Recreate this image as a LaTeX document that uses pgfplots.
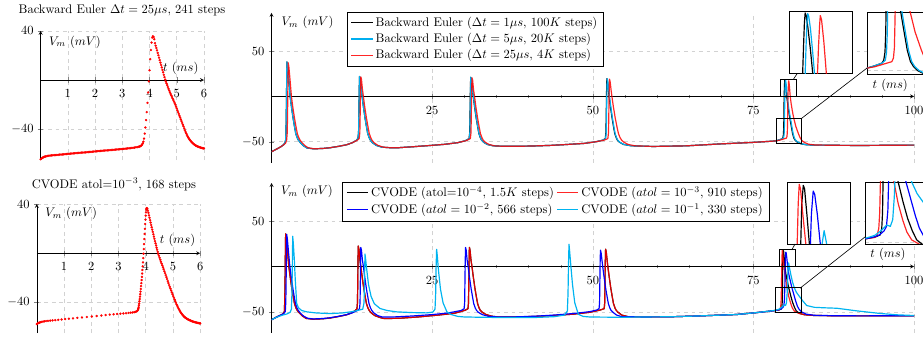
\documentclass[border=0pt]{standalone}
\usepackage{pgfplots}
\usepackage{pgfplotstable}
\pgfplotsset{compat=1.18}
\definecolor{tcyan}{RGB}{0,174,239}
\definecolor{bcyan}{RGB}{0,180,240}

% ---------------- left panels ----------------
\pgfplotstableread[row sep=\\]{t V\\
0 -64.3\\ 0.025 -63.8\\ 0.05 -63.4\\ 0.075 -63.0\\ 0.1 -62.7\\ 0.125 -62.45\\ 0.15 -62.25\\ 0.175 -62.05\\ 0.2 -61.9\\ 0.25 -61.6\\ 0.3 -61.45\\ 0.35 -61.3\\ 0.4 -61.2\\ 0.45 -61.1\\ 0.5 -61.0\\ 0.55 -60.9\\ 0.6 -60.8\\ 0.65 -60.7\\ 0.7 -60.55\\ 0.75 -60.45\\ 0.8 -60.35\\ 0.85 -60.25\\ 0.9 -60.15\\ 0.95 -60.05\\ 1.0 -59.95\\ 1.05 -59.85\\ 1.1 -59.75\\ 1.15 -59.65\\ 1.2 -59.55\\ 1.25 -59.45\\ 1.3 -59.35\\ 1.35 -59.25\\ 1.4 -59.15\\ 1.45 -59.05\\ 1.5 -58.95\\ 1.55 -58.85\\ 1.6 -58.75\\ 1.65 -58.65\\ 1.7 -58.55\\ 1.75 -58.45\\ 1.8 -58.35\\ 1.85 -58.25\\ 1.9 -58.15\\ 1.95 -58.05\\ 2.0 -57.95\\ 2.05 -57.85\\ 2.1 -57.75\\ 2.15 -57.65\\ 2.2 -57.55\\ 2.25 -57.45\\ 2.3 -57.35\\ 2.35 -57.25\\ 2.4 -57.15\\ 2.45 -57.05\\ 2.5 -56.95\\ 2.55 -56.85\\ 2.6 -56.75\\ 2.65 -56.65\\ 2.7 -56.55\\ 2.75 -56.45\\ 2.8 -56.35\\ 2.85 -56.25\\ 2.9 -56.15\\ 2.95 -56.05\\ 3.0 -55.95\\ 3.05 -55.85\\ 3.1 -55.75\\ 3.15 -55.65\\ 3.2 -55.5\\ 3.25 -55.4\\ 3.3 -55.25\\ 3.35 -55.1\\ 3.4 -54.95\\ 3.45 -54.8\\ 3.5 -54.6\\ 3.55 -54.4\\ 3.6 -54.15\\ 3.625 -54.0\\ 3.65 -53.8\\ 3.675 -53.5\\ 3.7 -53.1\\ 3.725 -52.5\\ 3.75 -51.5\\ 3.775 -50\\ 3.8 -47.5\\ 3.825 -43.5\\ 3.85 -38.5\\ 3.875 -32.5\\ 3.9 -26\\ 3.925 -18.5\\ 3.95 -10\\ 3.975 -1\\ 4.0 8\\ 4.025 17\\ 4.05 24.5\\ 4.075 30.5\\ 4.1 34.5\\ 4.125 35.6\\ 4.15 35.0\\ 4.175 33.2\\ 4.2 30.0\\ 4.225 28.0\\ 4.25 26.1\\ 4.275 24.1\\ 4.3 22.1\\ 4.325 20.2\\ 4.35 18.2\\ 4.375 16.2\\ 4.4 14.2\\ 4.425 12.3\\ 4.45 10.3\\ 4.475 8.3\\ 4.5 6.3\\ 4.525 4.3\\ 4.55 2.4\\ 4.575 0.4\\ 4.6 -1.2\\ 4.625 -2.7\\ 4.65 -4.1\\ 4.675 -5.6\\ 4.7 -7.1\\ 4.725 -8.5\\ 4.75 -10.0\\ 4.775 -11.2\\ 4.8 -12.5\\ 4.825 -13.7\\ 4.85 -15\\ 4.875 -16.2\\ 4.9 -17.5\\ 4.925 -18.7\\ 4.95 -20.0\\ 4.975 -21.5\\ 5.0 -23\\ 5.025 -24.5\\ 5.05 -26\\ 5.075 -27.5\\ 5.1 -29\\ 5.125 -30.4\\ 5.15 -31.9\\ 5.175 -33.3\\ 5.2 -34.8\\ 5.225 -36.2\\ 5.25 -37.6\\ 5.275 -39.2\\ 5.3 -40.7\\ 5.325 -42.1\\ 5.35 -43.4\\ 5.375 -44.6\\ 5.4 -45.7\\ 5.425 -46.7\\ 5.45 -47.6\\ 5.475 -48.4\\ 5.5 -49.1\\ 5.525 -49.8\\ 5.55 -50.4\\ 5.575 -51.0\\ 5.6 -51.5\\ 5.625 -52.0\\ 5.65 -52.4\\ 5.675 -52.8\\ 5.7 -53.2\\ 5.725 -53.5\\ 5.75 -53.8\\ 5.775 -54.0\\ 5.8 -54.2\\ 5.825 -54.4\\ 5.85 -54.6\\ 5.875 -54.8\\ 5.9 -55.0\\ 5.925 -55.1\\ 5.95 -55.25\\ 5.975 -55.4\\ 6.0 -55.5\\
}\LT

\pgfplotstableread[row sep=\\]{t V\\
0 -57.5\\ 0.02 -57.2\\ 0.04 -56.9\\ 0.07 -56.6\\ 0.1 -56.3\\ 0.14 -56.0\\ 0.18 -55.8\\ 0.23 -55.5\\ 0.28 -55.3\\ 0.34 -55.1\\ 0.41 -54.9\\ 0.49 -54.75\\ 0.58 -54.55\\ 0.68 -54.35\\ 0.79 -54.1\\ 0.91 -53.8\\ 1.04 -53.5\\ 1.18 -53.2\\ 1.33 -52.9\\ 1.49 -52.5\\ 1.66 -52.2\\ 1.84 -51.8\\ 2.02 -51.4\\ 2.2 -51.0\\ 2.37 -50.6\\ 2.53 -50.2\\ 2.68 -49.9\\ 2.82 -49.6\\ 2.95 -49.3\\ 3.07 -49.1\\ 3.18 -48.9\\ 3.28 -48.7\\ 3.37 -48.5\\ 3.45 -48.3\\ 3.52 -48.1\\ 3.58 -47.9\\ 3.63 -47.6\\ 3.67 -47.2\\ 3.7 -46.5\\ 3.72 -45.5\\ 3.73 -44.8\\ 3.74 -43.8\\ 3.75 -42.3\\ 3.76 -40.8\\ 3.77 -39\\ 3.78 -37.2\\ 3.79 -35.3\\ 3.8 -33.3\\ 3.81 -31.2\\ 3.82 -29\\ 3.83 -26.7\\ 3.84 -24.3\\ 3.85 -21.8\\ 3.86 -19.2\\ 3.87 -16.5\\ 3.88 -13.6\\ 3.89 -10.6\\ 3.9 -7.4\\ 3.91 -4\\ 3.92 -0.4\\ 3.93 3.4\\ 3.94 7.4\\ 3.95 11.5\\ 3.96 15.7\\ 3.97 19.8\\ 3.98 23.7\\ 3.99 27.3\\ 4.0 30.5\\ 4.01 33.2\\ 4.02 35.2\\ 4.03 36.4\\ 4.04 36.6\\ 4.05 36.3\\ 4.06 36.0\\ 4.08 34.5\\ 4.1 32.8\\ 4.12 30.8\\ 4.14 28.8\\ 4.16 26.8\\ 4.18 24.9\\ 4.2 23.0\\ 4.22 21.1\\ 4.24 19.2\\ 4.26 17.3\\ 4.28 15.4\\ 4.3 13.5\\ 4.32 11.7\\ 4.34 9.9\\ 4.36 8.1\\ 4.38 6.3\\ 4.4 4.5\\ 4.42 2.8\\ 4.44 1.1\\ 4.46 -0.5\\ 4.485 -2.1\\ 4.51 -3.7\\ 4.535 -5.3\\ 4.56 -6.9\\ 4.585 -8.4\\ 4.61 -9.9\\ 4.635 -11.4\\ 4.66 -13\\ 4.685 -14.6\\ 4.71 -16.2\\ 4.735 -17.8\\ 4.76 -19.4\\ 4.785 -21\\ 4.81 -22.6\\ 4.835 -24.2\\ 4.86 -25.8\\ 4.885 -27.3\\ 4.91 -28.8\\ 4.935 -30.3\\ 4.96 -31.8\\ 4.985 -33.3\\ 5.01 -34.8\\ 5.035 -36.2\\ 5.06 -37.6\\ 5.085 -39\\ 5.11 -40.3\\ 5.135 -41.6\\ 5.16 -42.8\\ 5.185 -44\\ 5.21 -45.1\\ 5.235 -46.1\\ 5.26 -47.1\\ 5.285 -48\\ 5.31 -48.8\\ 5.335 -49.6\\ 5.36 -50.3\\ 5.385 -50.9\\ 5.41 -51.5\\ 5.435 -52\\ 5.46 -52.4\\ 5.485 -52.8\\ 5.51 -53.1\\ 5.535 -53.5\\ 5.56 -53.8\\ 5.585 -54.1\\ 5.61 -54.4\\ 5.635 -54.6\\ 5.66 -54.9\\ 5.685 -55.1\\ 5.71 -55.3\\ 5.735 -55.5\\ 5.76 -55.7\\ 5.785 -55.9\\ 5.81 -56.0\\ 5.835 -56.2\\ 5.86 -56.3\\ 5.885 -56.5\\ 5.91 -56.6\\ 5.935 -56.7\\ 5.96 -56.8\\ 5.985 -56.9\\ 6.0 -57\\
}\LB

% ---------------- top right ----------------
\pgfplotstableread[row sep=\\]{t V\\
0 -61\\ 0.5 -59.2\\ 1.0 -57.3\\ 1.5 -55.3\\ 1.9 -53.2\\ 2.1 -51\\ 2.2 -48\\ 2.25 -40\\ 2.3 -20\\ 2.35 10\\ 2.4 38\\ 2.5 33\\ 2.7 17\\ 2.9 0\\ 3.1 -11\\ 3.36 -24\\ 3.6 -34\\ 3.78 -41\\ 4.0 -45.5\\ 4.2 -48.3\\ 4.5 -51\\ 5.0 -54.5\\ 5.5 -56.8\\ 6.5 -57.8\\ 8.0 -57.4\\ 9.1 -56.6\\ 10.5 -55\\ 11.7 -53.3\\ 12.6 -51\\ 13.2 -48.5\\ 13.45 -46.5\\ 13.55 -40\\ 13.6 -20\\ 13.65 5\\ 13.7 22\\ 13.8 19\\ 13.95 8\\ 14.1 0\\ 14.3 -11\\ 14.56 -24\\ 14.8 -34\\ 14.98 -41\\ 15.2 -45.5\\ 15.4 -48.3\\ 15.7 -51\\ 16.3 -54\\ 17.2 -56\\ 18.5 -56.6\\ 19.7 -56.6\\ 22 -55.5\\ 24.9 -54\\ 27 -52.8\\ 29 -51\\ 30.2 -48.8\\ 30.75 -46.5\\ 30.85 -40\\ 30.9 -20\\ 30.95 5\\ 31.0 21\\ 31.1 18\\ 31.25 7\\ 31.4 0\\ 31.6 -11\\ 31.86 -24\\ 32.1 -34\\ 32.28 -41\\ 32.5 -45.5\\ 32.7 -48.3\\ 33.0 -50.5\\ 33.6 -53\\ 34.5 -54.5\\ 36 -55\\ 38.6 -55\\ 41 -54.6\\ 43.5 -54\\ 46 -53\\ 48.7 -51.8\\ 50.5 -50\\ 51.6 -48.2\\ 51.95 -46.5\\ 52.05 -40\\ 52.1 -20\\ 52.15 5\\ 52.2 19.5\\ 52.3 16.5\\ 52.45 6\\ 52.55 0\\ 52.75 -11\\ 53.01 -24\\ 53.25 -34\\ 53.43 -41\\ 53.65 -45.5\\ 53.85 -48.3\\ 54.15 -50.5\\ 54.8 -53\\ 56 -54.5\\ 59.4 -55.2\\ 64.6 -54.5\\ 69.8 -52.4\\ 75 -50.7\\ 78.1 -49.3\\ 78.5 -49\\ 79.0 -48\\ 79.48 -46.8\\ 79.6 -45.5\\ 79.68 -42\\ 79.73 -33\\ 79.76 -18\\ 79.79 0\\ 79.83 9\\ 79.86 15\\ 79.89 18\\ 79.93 17.2\\ 80.0 13.5\\ 80.1 7\\ 80.19 0\\ 80.3 -6\\ 80.45 -14.5\\ 80.68 -24\\ 80.9 -33\\ 81.1 -41\\ 81.3 -46\\ 81.5 -48.3\\ 81.75 -50\\ 82.4 -52.3\\ 83.2 -53.3\\ 84.5 -53.7\\ 87 -53.9\\ 91.6 -54.1\\ 96 -53.9\\ 100 -53.7\\
}\TRk

\pgfplotstableread[row sep=\\]{t V\\
0 -61\\ 0.5 -59.2\\ 1.0 -57.3\\ 1.5 -55.3\\ 1.9 -53.2\\ 2.1 -51\\ 2.2 -48\\ 2.25 -40\\ 2.3 -20\\ 2.35 10\\ 2.4 38\\ 2.5 33\\ 2.7 17\\ 2.9 0\\ 3.1 -11\\ 3.36 -24\\ 3.6 -34\\ 3.78 -41\\ 4.0 -45.5\\ 4.2 -48.3\\ 4.5 -51\\ 5.0 -54.5\\ 5.5 -56.8\\ 6.5 -57.8\\ 8.0 -57.4\\ 9.1 -56.6\\ 10.5 -55\\ 11.7 -53.3\\ 12.6 -51\\ 13.2 -48.5\\ 13.45 -46.5\\ 13.55 -40\\ 13.6 -20\\ 13.65 5\\ 13.7 22\\ 13.8 19\\ 13.95 8\\ 14.1 0\\ 14.3 -11\\ 14.56 -24\\ 14.8 -34\\ 14.98 -41\\ 15.2 -45.5\\ 15.4 -48.3\\ 15.7 -51\\ 16.3 -54\\ 17.2 -56\\ 18.5 -56.6\\ 19.7 -56.6\\ 22 -55.5\\ 24.9 -54\\ 27 -52.8\\ 29 -51\\ 30.2 -48.8\\ 30.77 -46.5\\ 30.87 -40\\ 30.92 -20\\ 30.97 5\\ 31.02 21\\ 31.12 18\\ 31.27 7\\ 31.42 0\\ 31.62 -11\\ 31.88 -24\\ 32.12 -34\\ 32.3 -41\\ 32.52 -45.5\\ 32.72 -48.3\\ 33.02 -50.5\\ 33.6 -53\\ 34.5 -54.5\\ 36 -55\\ 38.6 -55\\ 41 -54.6\\ 43.5 -54\\ 46 -53\\ 48.7 -51.8\\ 50.5 -50\\ 51.6 -48.2\\ 52.0 -46.5\\ 52.1 -40\\ 52.15 -20\\ 52.2 5\\ 52.25 19.5\\ 52.35 16.5\\ 52.5 6\\ 52.6 0\\ 52.8 -11\\ 53.06 -24\\ 53.3 -34\\ 53.48 -41\\ 53.7 -45.5\\ 53.9 -48.3\\ 54.2 -50.5\\ 54.85 -53\\ 56 -54.5\\ 59.4 -55.2\\ 64.6 -54.5\\ 69.8 -52.4\\ 75 -50.7\\ 78.1 -49.3\\ 78.5 -49\\ 79.0 -48\\ 79.5 -46.7\\ 79.7 -45.5\\ 79.78 -42\\ 79.83 -33\\ 79.86 -18\\ 79.89 0\\ 79.93 9\\ 79.96 15\\ 79.99 17.8\\ 80.03 17\\ 80.1 13.3\\ 80.18 7\\ 80.26 0\\ 80.37 -6\\ 80.53 -14.5\\ 80.76 -24\\ 80.98 -33\\ 81.18 -41\\ 81.38 -46\\ 81.58 -48.3\\ 81.85 -50\\ 82.5 -52.3\\ 83.3 -53.3\\ 84.5 -53.7\\ 87 -53.9\\ 91.6 -54.1\\ 96 -53.9\\ 100 -53.7\\
}\TRc

\pgfplotstableread[row sep=\\]{t V\\
0 -61\\ 0.5 -59.2\\ 1.0 -57.3\\ 1.5 -55.3\\ 1.9 -53.3\\ 2.2 -51.5\\ 2.35 -48.5\\ 2.45 -40\\ 2.5 -20\\ 2.55 10\\ 2.6 37\\ 2.7 33\\ 2.9 17\\ 3.1 0\\ 3.3 -11\\ 3.58 -24\\ 3.83 -34\\ 4.02 -41\\ 4.25 -45.5\\ 4.45 -48.3\\ 4.75 -51\\ 5.25 -54.5\\ 5.75 -56.8\\ 6.7 -57.8\\ 8.0 -57.4\\ 9.1 -56.6\\ 10.5 -55\\ 11.7 -53.3\\ 12.6 -51\\ 13.3 -48.5\\ 13.65 -46.5\\ 13.75 -40\\ 13.8 -20\\ 13.85 5\\ 13.9 21.5\\ 14.0 19\\ 14.15 8\\ 14.3 0\\ 14.5 -11\\ 14.78 -24\\ 15.03 -34\\ 15.22 -41\\ 15.45 -45.5\\ 15.65 -48.3\\ 15.95 -51\\ 16.55 -54\\ 17.4 -56\\ 18.5 -56.6\\ 19.7 -56.6\\ 22 -55.5\\ 24.9 -54\\ 27 -52.8\\ 29 -51\\ 30.3 -48.8\\ 30.95 -46.5\\ 31.05 -40\\ 31.1 -20\\ 31.15 5\\ 31.2 20.5\\ 31.3 18\\ 31.45 7\\ 31.6 0\\ 31.8 -11\\ 32.08 -24\\ 32.33 -34\\ 32.52 -41\\ 32.75 -45.5\\ 32.95 -48.3\\ 33.25 -50.5\\ 33.85 -53\\ 34.7 -54.5\\ 36 -55\\ 38.6 -55\\ 41 -54.6\\ 43.5 -54\\ 46 -53\\ 48.7 -51.8\\ 50.5 -50\\ 51.8 -48.2\\ 52.35 -46.5\\ 52.45 -40\\ 52.5 -20\\ 52.55 5\\ 52.6 19\\ 52.7 16.5\\ 52.87 6\\ 52.98 0\\ 53.2 -11\\ 53.5 -24\\ 53.78 -34\\ 54.0 -41\\ 54.25 -45.5\\ 54.5 -48.3\\ 54.85 -50.5\\ 55.5 -53\\ 56.6 -54.5\\ 59.4 -55.2\\ 64.6 -54.5\\ 69.8 -52.4\\ 75 -50.7\\ 78.1 -49.3\\ 78.5 -49\\ 79.0 -48.4\\ 79.4 -47.6\\ 80.12 -46.1\\ 80.22 -44.5\\ 80.28 -40\\ 80.32 -28\\ 80.35 -14\\ 80.38 0\\ 80.42 8\\ 80.46 14\\ 80.49 17.2\\ 80.54 16\\ 80.63 9.5\\ 80.73 0\\ 80.88 -8\\ 81.05 -15.5\\ 81.28 -24\\ 81.6 -33\\ 82.0 -41\\ 82.3 -46\\ 82.6 -49\\ 83.0 -51\\ 83.6 -52.7\\ 84.5 -53.5\\ 87 -53.9\\ 91.6 -54.1\\ 96 -53.9\\ 100 -53.7\\
}\TRr

% ---------------- bottom right ----------------
\pgfplotstableread[row sep=\\]{t V\\
0 -58.7\\ 0.5 -56.8\\ 1.0 -55\\ 1.5 -53.3\\ 1.84 -52\\ 2.0 -49.5\\ 2.05 -40\\ 2.1 -20\\ 2.15 10\\ 2.2 36\\ 2.3 31\\ 2.5 15\\ 2.7 0\\ 2.9 -11\\ 3.16 -24\\ 3.4 -34\\ 3.58 -41\\ 3.8 -45.5\\ 4.0 -48.3\\ 4.3 -51\\ 4.8 -54.5\\ 5.4 -57.2\\ 6.5 -58.1\\ 8 -57.6\\ 9.1 -56.8\\ 10.5 -55\\ 11.7 -53.2\\ 12.5 -51\\ 13.05 -48.5\\ 13.3 -46.5\\ 13.38 -40\\ 13.42 -20\\ 13.46 5\\ 13.5 22.5\\ 13.6 19.5\\ 13.75 8\\ 13.9 0\\ 14.1 -11\\ 14.36 -24\\ 14.6 -34\\ 14.78 -41\\ 15.0 -45.5\\ 15.2 -48.3\\ 15.5 -51\\ 16.1 -54.2\\ 17 -56.5\\ 17.6 -57.4\\ 20 -57\\ 23 -55.5\\ 26 -53.5\\ 28.5 -51.5\\ 30.1 -48.3\\ 30.58 -46.5\\ 30.66 -40\\ 30.7 -20\\ 30.75 5\\ 30.8 21\\ 30.9 18\\ 31.05 7\\ 31.2 0\\ 31.4 -11\\ 31.66 -24\\ 31.9 -34\\ 32.08 -41\\ 32.3 -45.5\\ 32.5 -48.3\\ 32.8 -50.5\\ 33.4 -53\\ 34.3 -54.8\\ 35.3 -55.6\\ 38 -55.6\\ 41 -55\\ 44 -54\\ 47 -52.5\\ 49.5 -50.5\\ 51.1 -48.1\\ 51.78 -46.5\\ 51.86 -40\\ 51.9 -20\\ 51.95 5\\ 52.0 19\\ 52.1 16\\ 52.25 6\\ 52.35 0\\ 52.55 -11\\ 52.81 -24\\ 53.05 -34\\ 53.23 -41\\ 53.45 -45.5\\ 53.65 -48.3\\ 53.95 -50.5\\ 54.5 -53.5\\ 55.5 -55.3\\ 58 -55.6\\ 62 -55.4\\ 66 -54.6\\ 69 -53.8\\ 72.4 -52.9\\ 75.5 -50.8\\ 78.1 -48.8\\ 78.5 -48.4\\ 79.0 -47.8\\ 79.35 -46.8\\ 79.45 -44\\ 79.5 -37\\ 79.53 -25\\ 79.56 0\\ 79.6 12\\ 79.66 17.5\\ 79.71 16.5\\ 79.8 9\\ 79.9 0\\ 80.05 -8\\ 80.25 -15\\ 80.5 -23.5\\ 80.8 -32\\ 81.1 -39.5\\ 81.4 -45\\ 81.68 -49\\ 82.2 -51.8\\ 83 -53.2\\ 84.5 -54\\ 88 -54.3\\ 92 -54.4\\ 96 -54.3\\ 100 -54.2\\
}\BRk

\pgfplotstableread[row sep=\\]{t V\\
0 -58.7\\ 0.5 -56.8\\ 1.0 -55\\ 1.5 -53.3\\ 1.84 -52\\ 2.0 -49.5\\ 2.05 -40\\ 2.1 -20\\ 2.15 10\\ 2.2 36\\ 2.3 31\\ 2.5 15\\ 2.7 0\\ 2.9 -11\\ 3.16 -24\\ 3.4 -34\\ 3.58 -41\\ 3.8 -45.5\\ 4.0 -48.3\\ 4.3 -51\\ 4.8 -54.5\\ 5.4 -57.2\\ 6.5 -58.1\\ 8 -57.6\\ 9.1 -56.8\\ 10.5 -55\\ 11.7 -53.2\\ 12.5 -51\\ 13.05 -48.5\\ 13.3 -46.5\\ 13.38 -40\\ 13.42 -20\\ 13.46 5\\ 13.5 22.5\\ 13.6 19.5\\ 13.75 8\\ 13.9 0\\ 14.1 -11\\ 14.36 -24\\ 14.6 -34\\ 14.78 -41\\ 15.0 -45.5\\ 15.2 -48.3\\ 15.5 -51\\ 16.1 -54.2\\ 17 -56.5\\ 17.6 -57.4\\ 20 -57\\ 23 -55.5\\ 26 -53.5\\ 28.5 -51.5\\ 30.1 -48.3\\ 30.58 -46.5\\ 30.66 -40\\ 30.7 -20\\ 30.75 5\\ 30.8 21\\ 30.9 18\\ 31.05 7\\ 31.2 0\\ 31.4 -11\\ 31.66 -24\\ 31.9 -34\\ 32.08 -41\\ 32.3 -45.5\\ 32.5 -48.3\\ 32.8 -50.5\\ 33.4 -53\\ 34.3 -54.8\\ 35.3 -55.6\\ 38 -55.6\\ 41 -55\\ 44 -54\\ 47 -52.5\\ 49.5 -50.5\\ 51.1 -48.1\\ 51.78 -46.5\\ 51.86 -40\\ 51.9 -20\\ 51.95 5\\ 52.0 19\\ 52.1 16\\ 52.25 6\\ 52.35 0\\ 52.55 -11\\ 52.81 -24\\ 53.05 -34\\ 53.23 -41\\ 53.45 -45.5\\ 53.65 -48.3\\ 53.95 -50.5\\ 54.5 -53.5\\ 55.5 -55.3\\ 58 -55.6\\ 62 -55.4\\ 66 -54.6\\ 69 -53.8\\ 72.4 -52.9\\ 75.5 -50.8\\ 78.1 -48.8\\ 78.5 -48.4\\ 79.0 -47.9\\ 79.15 -47\\ 79.26 -44\\ 79.32 -37\\ 79.36 -25\\ 79.42 0\\ 79.46 12\\ 79.5 17.8\\ 79.55 16.5\\ 79.64 9\\ 79.76 0\\ 79.9 -8\\ 80.05 -15\\ 80.23 -23.5\\ 80.5 -33\\ 80.8 -40.5\\ 81.05 -45.5\\ 81.36 -49\\ 82.0 -51.5\\ 83 -53.2\\ 84.5 -54\\ 88 -54.3\\ 92 -54.4\\ 96 -54.3\\ 100 -54.2\\
}\BRr

\pgfplotstableread[row sep=\\]{t V\\
0 -58.7\\ 0.5 -56.8\\ 1.0 -55\\ 1.5 -53.3\\ 1.9 -52\\ 2.15 -49.5\\ 2.22 -40\\ 2.27 -20\\ 2.31 10\\ 2.36 35.5\\ 2.46 31\\ 2.66 15\\ 2.86 0\\ 3.06 -11\\ 3.32 -24\\ 3.56 -34\\ 3.74 -41\\ 3.96 -45.5\\ 4.16 -48.3\\ 4.46 -51\\ 4.96 -54.5\\ 5.6 -57\\ 6.5 -57.8\\ 8 -57.3\\ 9.1 -56.5\\ 10.5 -54.8\\ 11.7 -53\\ 12.6 -51\\ 13.4 -48.3\\ 13.7 -46.5\\ 13.78 -40\\ 13.82 -20\\ 13.86 5\\ 13.9 21\\ 14.0 18\\ 14.15 7\\ 14.3 0\\ 14.5 -11\\ 14.76 -24\\ 15.0 -34\\ 15.18 -41\\ 15.4 -45.5\\ 15.6 -48.3\\ 15.9 -51\\ 16.5 -54\\ 17.2 -55.6\\ 19 -55.6\\ 22 -54.5\\ 25 -53\\ 27.5 -51.2\\ 29.5 -48.5\\ 29.98 -46.5\\ 30.06 -40\\ 30.1 -20\\ 30.15 5\\ 30.2 21\\ 30.3 18\\ 30.45 7\\ 30.6 0\\ 30.8 -11\\ 31.06 -24\\ 31.3 -34\\ 31.48 -41\\ 31.7 -45.5\\ 31.9 -48.3\\ 32.2 -50.5\\ 32.8 -53\\ 33.7 -54.8\\ 35 -55.5\\ 38 -55.5\\ 41 -54.8\\ 44 -53.5\\ 47 -51.8\\ 49.5 -49.8\\ 50.6 -48\\ 50.98 -46.5\\ 51.06 -40\\ 51.1 -20\\ 51.15 5\\ 51.2 18\\ 51.3 15\\ 51.45 6\\ 51.55 0\\ 51.75 -11\\ 52.01 -24\\ 52.25 -34\\ 52.43 -41\\ 52.65 -45.5\\ 52.85 -48.3\\ 53.15 -50.5\\ 53.7 -53.5\\ 54.5 -55.3\\ 58 -55.6\\ 62 -55.4\\ 66 -54.6\\ 69 -53.8\\ 72.4 -52.9\\ 75.5 -50.8\\ 78.1 -48.8\\ 78.5 -48.4\\ 79.0 -47.6\\ 79.3 -46.8\\ 79.6 -45\\ 79.75 -43\\ 79.84 -36\\ 79.9 -20\\ 79.94 0\\ 79.98 9\\ 80.05 15.8\\ 80.11 14.8\\ 80.21 9\\ 80.33 0\\ 80.5 -8\\ 80.75 -16\\ 81.0 -23.5\\ 81.3 -31\\ 81.6 -38.5\\ 81.85 -43.8\\ 82.1 -47\\ 82.5 -50\\ 83.2 -52.5\\ 84.5 -53.8\\ 88 -54.3\\ 92 -54.4\\ 96 -54.3\\ 100 -54.2\\
}\BRb

\pgfplotstableread[row sep=\\]{t V\\
0 -58.7\\ 0.6 -56.5\\ 1.2 -54.8\\ 1.8 -53.4\\ 2.4 -52.3\\ 2.9 -50.5\\ 3.1 -47\\ 3.18 -30\\ 3.24 0\\ 3.3 33.4\\ 3.4 25\\ 3.55 8\\ 3.7 -15\\ 3.92 -40.7\\ 4.2 -45.5\\ 4.7 -48.5\\ 5.5 -50\\ 7 -51.2\\ 9.1 -51.9\\ 11 -51.2\\ 12.5 -49.8\\ 13.5 -48.3\\ 14.2 -47\\ 14.4 -40\\ 14.47 -15\\ 14.55 13.8\\ 14.65 8\\ 14.85 -5\\ 15.1 -20\\ 15.5 -33\\ 16 -41\\ 16.9 -46.3\\ 18 -48.5\\ 19.5 -50\\ 22 -50.8\\ 24.1 -51.1\\ 25.1 -50.3\\ 25.45 -47\\ 25.55 -30\\ 25.62 0\\ 25.7 19\\ 25.8 12\\ 26 -5\\ 26.3 -25\\ 26.7 -40\\ 27.3 -50\\ 28 -53\\ 29 -55\\ 30 -55.6\\ 33 -56\\ 37 -56.3\\ 41 -56.2\\ 44 -55.3\\ 45.6 -53.5\\ 46.05 -49\\ 46.15 -30\\ 46.22 0\\ 46.3 24.6\\ 46.4 17\\ 46.6 0\\ 46.85 -20\\ 47.2 -40\\ 47.75 -52.6\\ 48.5 -55\\ 49.5 -55.6\\ 51.6 -55.8\\ 55 -55.9\\ 58 -55.6\\ 62 -55.4\\ 66 -54.6\\ 69 -53.8\\ 72.4 -52.9\\ 75.5 -50.8\\ 78.1 -48.6\\ 78.5 -48.1\\ 79.0 -47\\ 79.4 -45\\ 79.76 -42.4\\ 80.0 -43\\ 80.15 -40\\ 80.25 -30\\ 80.33 -15\\ 80.4 0\\ 80.48 4\\ 80.58 0\\ 80.8 -8\\ 81.05 -16\\ 81.36 -23.4\\ 81.7 -28.5\\ 82.08 -32.2\\ 82.7 -38\\ 83.3 -43\\ 84.5 -45\\ 86 -45.5\\ 88 -46\\ 91.1 -48.9\\ 94.8 -51.8\\ 97.5 -53.3\\ 100 -54\\
}\BRc

\pgfplotsset{
  mainax/.style={scale only axis, anchor=south west, axis lines=middle, enlargelimits=false,
    xmin=0, xmax=100, ymin=-73, ymax=92, width=514pt, height=119.8pt,
    xtick={25,50,75,100}, minor x tick num=4, ytick={-50,0,50},
    xticklabel style={yshift=-2pt},
    grid=major, grid style={dashed,gray!35}, clip mode=individual,
    legend cell align=left,
    every axis plot/.append style={line width=0.95pt, line join=round}},
  leftax/.style={scale only axis, anchor=south west, axis lines=middle, enlargelimits=false,
    xmin=0, xmax=6, ymin=-65, ymax=40, width=130.7pt, height=103.4pt,
    xtick={1,2,3,4,5,6}, ytick={-40,0,40},
    xticklabel style={yshift=-1.5pt},
    grid=major, grid style={dashed,gray!35}, clip=false},
  insetax/.style={scale only axis, anchor=south west, width=50.2pt, height=49.6pt,
    xtick=\empty, ytick={-50}, yticklabels={}, major tick length=0pt,
    ymajorgrids, grid style={dashed,gray!35},
    axis background/.style={fill=white},
    every axis plot/.append style={line width=0.95pt, line join=round}},
  dots/.style={only marks, mark=*, mark size=0.85pt, red, mark options={draw=red, fill=red, line width=0.2pt}}
}

\begin{document}
\begin{tikzpicture}
% ===== top left =====
\begin{axis}[leftax, at={(32.48pt,141.5pt)}]
\addplot[dots] table[x=t,y=V]{\LT};
\node[anchor=west] at (axis cs:0.15,31) {$V_m\ (mV)$};
\node at (axis cs:5.15,9.7) {$t\ (ms)$};
\end{axis}
\node[anchor=base] at (97.6pt,258.4pt) {Backward Euler $\Delta t = 25\mu s$, 241 steps};

% ===== bottom left =====
\begin{axis}[leftax, at={(29.44pt,3pt)}]
\addplot[dots] table[x=t,y=V]{\LB};
\node[anchor=west] at (axis cs:0.15,32) {$V_m\ (mV)$};
\node at (axis cs:5.17,10.2) {$t\ (ms)$};
\end{axis}
\node[anchor=base] at (91.2pt,119pt) {CVODE atol=$10^{-3}$, 168 steps};

% ===== top right =====
\begin{axis}[mainax, at={(217.2pt,139.5pt)},
  legend style={at={(0.117,1.007)}, anchor=north west, draw=black}]
\addplot[black] table[x=t,y=V]{\TRk};
\addlegendentry{Backward Euler ($\Delta t = 1\mu s$, $100K$ steps)}
\addplot[tcyan] table[x=t,y=V]{\TRc};
\addlegendentry{Backward Euler ($\Delta t = 5\mu s$, $20K$ steps)}
\addplot[red, opacity=0.85] table[x=t,y=V]{\TRr};
\addlegendentry{Backward Euler ($\Delta t = 25\mu s$, $4K$ steps)}
\draw[black, line width=0.6pt] (axis cs:79.25,0) rectangle (axis cs:81.74,18.5);
\draw[black, line width=0.6pt] (axis cs:78.52,-51.5) rectangle (axis cs:82.52,-24.1);
\node[anchor=west] at (axis cs:0.9,81.3) {$V_m\ (mV)$};
\node at (axis cs:96.3,12.4) {$t\ (ms)$};
\end{axis}

\begin{axis}[insetax, at={(631.2pt,211pt)}, xmin=79.25, xmax=81.74, ymin=0, ymax=18.5]
\addplot[black] table[x=t,y=V]{\TRk};
\addplot[tcyan] table[x=t,y=V]{\TRc};
\addplot[red, opacity=0.85] table[x=t,y=V]{\TRr};
\end{axis}
\begin{axis}[insetax, at={(693.4pt,210.5pt)}, xmin=78.52, xmax=82.52, ymin=-51.5, ymax=-24.1]
\addplot[black] table[x=t,y=V]{\TRk};
\addplot[tcyan] table[x=t,y=V]{\TRc};
\addplot[red, opacity=0.85] table[x=t,y=V]{\TRr};
\end{axis}
\draw[line width=0.5pt] (641.4pt,175pt) -- (693.4pt,215pt);
\draw[line width=0.5pt] (634.7pt,206.1pt) -- (637.9pt,211pt);

% ===== bottom right =====
\begin{axis}[mainax, at={(217.2pt,3.4pt)}, legend columns=2,
  legend style={at={(0.110,1.01)}, anchor=north west, draw=black}]
\addplot[black] table[x=t,y=V]{\BRk};
\addlegendentry{CVODE (atol=$10^{-4}$, $1.5K$ steps)}
\addplot[red, opacity=0.85] table[x=t,y=V]{\BRr};
\addlegendentry{CVODE ($atol = 10^{-3}$, 910 steps)}
\addplot[blue] table[x=t,y=V]{\BRb};
\addlegendentry{CVODE ($atol = 10^{-2}$, 566 steps)}
\addplot[bcyan] table[x=t,y=V]{\BRc};
\addlegendentry{CVODE ($atol = 10^{-1}$, 330 steps)}
\draw[black, line width=0.6pt] (axis cs:79.03,0) rectangle (axis cs:81.5,18.5);
\draw[black, line width=0.6pt] (axis cs:78.4,-50.8) rectangle (axis cs:82.4,-23.4);
\node[anchor=west] at (axis cs:0.8,82.4) {$V_m\ (mV)$};
\node at (axis cs:95.95,13) {$t\ (ms)$};
\end{axis}

\begin{axis}[insetax, at={(629.8pt,74.4pt)}, xmin=79.03, xmax=81.5, ymin=0, ymax=18.5]
\addplot[black] table[x=t,y=V]{\BRk};
\addplot[red, opacity=0.85] table[x=t,y=V]{\BRr};
\addplot[blue] table[x=t,y=V]{\BRb};
\addplot[bcyan] table[x=t,y=V]{\BRc};
\end{axis}
\begin{axis}[insetax, at={(692.2pt,74.4pt)}, xmin=78.4, xmax=82.4, ymin=-50.8, ymax=-23.4]
\addplot[black] table[x=t,y=V]{\BRk};
\addplot[red, opacity=0.85] table[x=t,y=V]{\BRr};
\addplot[blue] table[x=t,y=V]{\BRb};
\addplot[bcyan] table[x=t,y=V]{\BRc};
\end{axis}
\draw[line width=0.5pt] (640pt,39pt) -- (692.2pt,80.2pt);
\draw[line width=0.5pt] (633.4pt,69.6pt) -- (636pt,74.4pt);

\pgfresetboundingbox
\path (0pt,0pt) rectangle (738.4pt,269.6pt);
\end{tikzpicture}
\end{document}
